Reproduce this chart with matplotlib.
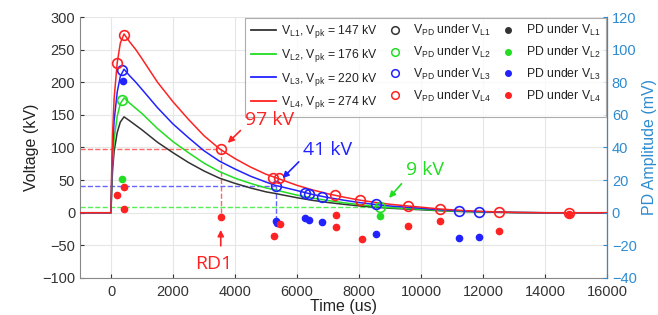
import matplotlib
matplotlib.use("Agg")
import matplotlib.pyplot as plt
from matplotlib.lines import Line2D

plt.rcParams['font.family'] = ['Liberation Sans', 'DejaVu Sans']
plt.rcParams['mathtext.fontset'] = 'custom'
plt.rcParams['mathtext.rm'] = 'Liberation Sans'
plt.rcParams['mathtext.it'] = 'Liberation Sans:italic'

# ---- data ----
t_wave = [-1000, 0, 20, 50, 100, 200, 300, 420, 600, 800, 1000, 1500, 2000, 2500,
          3000, 3500, 4000, 4500, 5000, 5300, 6000, 6500, 7000, 7500, 8000, 8500,
          9000, 9500, 10000, 10600, 11000, 11500, 12000, 12500, 13000, 14000, 16000]
v_L4 = [0, 0, 60, 120, 175, 230, 260, 274, 262, 250, 236, 200, 170, 143,
        118, 98, 83, 70, 59, 54, 42, 35, 29, 24, 19.5, 16,
        13, 10.7, 8.5, 5.8, 4.5, 3, 2, 1.2, 0.5, 0, 0]
v_L3 = [0, 0, 48, 97, 141, 185, 209, 220, 210, 200, 189, 161, 136, 115,
        95, 79, 67, 56, 47, 42, 34, 28, 23.3, 19.3, 15.7, 12.8,
        10.3, 8.6, 6.8, 4.6, 3.6, 2.4, 1.6, 1, 0.4, 0, 0]
v_L2 = [0, 0, 39, 77, 113, 148, 167, 176, 168, 160, 152, 129, 109, 92,
        76, 63, 53, 45, 38, 35, 27, 22.5, 18.7, 15.4, 12.5, 9.8,
        7.8, 6.6, 5.3, 3.6, 2.8, 1.9, 1.3, 0.8, 0.35, 0, 0]
v_L1 = [0, 0, 32, 65, 94, 123, 139, 147, 141, 134, 127, 108, 92, 77,
        64, 53, 45, 38, 32, 29.5, 23, 19, 15.7, 13, 10.5, 8.5,
        6.9, 5.7, 4.6, 3.1, 2.4, 1.6, 1.1, 0.65, 0.3, 0, 0]

# V_PD circles (kV)
vpd_L1_t, vpd_L1_v = [], []
vpd_L2_t = [344, 8693]
vpd_L2_v = [173, 8.3]
vpd_L3_t = [365, 5334, 6246, 6375, 6793, 8532, 11236, 11858]
vpd_L3_v = [219, 41, 29.8, 29.2, 24, 13.4, 3.2, 1.2]
vpd_L4_t = [193, 418, 3563, 5237, 5420, 7222, 8040, 9573, 10603, 12503, 14788]
vpd_L4_v = [229, 273, 97, 54, 52.5, 27.2, 19.5, 10.8, 5.7, 1.2, -1]

# PD amplitudes (mV)
pd_L1_t, pd_L1_a = [], []
pd_L2_t = [354, 8693]
pd_L2_a = [20.7, -2]
pd_L3_t = [376, 5312, 5355, 6246, 6385, 6816, 8554, 11236, 11869]
pd_L3_a = [81, -4.9, -6.5, -3, -4.4, -5.9, -13, -15.5, -14.9]
pd_L4_t = [193, 430, 418, 3540, 5258, 5452, 7244, 7244, 8081, 9584, 10615, 12503, 14790]
pd_L4_a = [10.9, 15.6, 2.3, -2.4, -14, -6.9, -1.6, -9, -15.9, -8.1, -5.1, -11.2, -0.6]

line_labels = [r'V$_{\mathrm{L1}}$, V$_{\mathrm{pk}}$ = 147 kV',
               r'V$_{\mathrm{L2}}$, V$_{\mathrm{pk}}$ = 176 kV',
               r'V$_{\mathrm{L3}}$, V$_{\mathrm{pk}}$ = 220 kV',
               r'V$_{\mathrm{L4}}$, V$_{\mathrm{pk}}$ = 274 kV']
circ_labels = [r'V$_{\mathrm{PD}}$ under V$_{\mathrm{L%d}}$' % i for i in range(1, 5)]
dot_labels = [r'PD under V$_{\mathrm{L%d}}$' % i for i in range(1, 5)]

colors = ['#333333', '#22dd22', '#2222ff', '#ff2222']
right_color = '#2e8bd0'

fig = plt.figure(figsize=(6.58, 3.15), dpi=100)
ax = fig.add_axes([0.1216, 0.1175, 0.8009, 0.8285])
ax2 = ax.twinx()

waves = [v_L1, v_L2, v_L3, v_L4]
vpds = [(vpd_L1_t, vpd_L1_v), (vpd_L2_t, vpd_L2_v), (vpd_L3_t, vpd_L3_v), (vpd_L4_t, vpd_L4_v)]
pds = [(pd_L1_t, pd_L1_a), (pd_L2_t, pd_L2_a), (pd_L3_t, pd_L3_a), (pd_L4_t, pd_L4_a)]

# dashed guide lines
ax.plot([-1000, 3563], [97, 97], ls='--', color='#ff6666', lw=1.0, zorder=2)
ax.plot([3563, 3563], [97, -5], ls='--', color='#ff6666', lw=1.0, zorder=2)
ax.plot([-1000, 5334], [41, 41], ls='--', color='#6666ff', lw=1.0, zorder=2)
ax.plot([5334, 5334], [41, -10], ls='--', color='#6666ff', lw=1.0, zorder=2)
ax.plot([-1000, 8693], [9, 9], ls='--', color='#55ee55', lw=1.0, zorder=2)

handles_l, handles_c, handles_d = [], [], []
for i in range(4):
    ax.plot(t_wave, waves[i], color=colors[i], lw=1.1, zorder=3)
    handles_l.append(Line2D([], [], color=colors[i], lw=1.3))
    ax.plot(vpds[i][0], vpds[i][1], 'o', mfc='none', mec=colors[i], ms=7, mew=1.2, zorder=4)
    handles_c.append(Line2D([], [], ls='none', marker='o', mfc='none', mec=colors[i], ms=5.5, mew=1.1))
    ax2.plot(pds[i][0], pds[i][1], 'o', color=colors[i], ms=4.5, zorder=4)
    handles_d.append(Line2D([], [], ls='none', marker='o', color=colors[i], ms=4))

ax.set_xlim(-1000, 16000)
ax.set_ylim(-100, 300)
ax2.set_ylim(-40, 120)
ax.set_xticks(range(0, 16001, 2000))
ax.set_yticks(range(-100, 301, 50))
ax2.set_yticks(range(-40, 121, 20))
ax.grid(True, color='#e6e6e6', lw=0.8)
ax.set_axisbelow(True)

ax.spines['top'].set_visible(False)
ax2.spines['top'].set_visible(False)
ax.spines['left'].set_color('#888888')
ax.spines['bottom'].set_color('#888888')
ax2.spines['right'].set_color(right_color)
ax2.spines['left'].set_visible(False)
ax2.spines['bottom'].set_visible(False)

ax.tick_params(labelsize=10.5, colors='#333333', length=3, direction='in')
ax.tick_params(axis='x', pad=5)
ax2.tick_params(labelsize=10.5, colors=right_color, length=3, direction='in')
ax.set_xlabel('Time (us)', fontsize=11.5, labelpad=0, color='#222222')
ax.set_ylabel('Voltage (kV)', fontsize=11.5, labelpad=2, color='#222222')
ax2.set_ylabel('PD Amplitude (mV)', fontsize=11.5, color=right_color, labelpad=4)

ax2.set_zorder(ax.get_zorder() + 1)
leg = ax2.legend(handles_l + handles_c + handles_d, line_labels + circ_labels + dot_labels,
                 ncol=3, loc='upper right', bbox_to_anchor=(1.0, 1.0), borderaxespad=0.05,
                 fontsize=8.8, frameon=True, fancybox=False, edgecolor='#999999',
                 handlelength=2.1, handletextpad=0.4, columnspacing=0.35, labelspacing=0.55,
                 borderpad=0.45)
leg.get_frame().set_linewidth(0.8)
leg.set_zorder(5)
for txt in leg.get_texts():
    txt.set_color('#222222')

# annotations
afont = ['Open Sans', 'DejaVu Sans']
tr = ax.transData
ax2.annotate('', xy=(3700, 104), xytext=(4240, 129), xycoords=tr, textcoords=tr,
             arrowprops=dict(arrowstyle='-|>', color='#ff2222', lw=1.2, mutation_scale=9), zorder=6)
ax2.text(5120, 142, '97 kV', transform=tr, color='#ff2222', fontsize=14, ha='center', va='center', family=afont, zorder=7)
ax2.annotate('', xy=(5470, 50), xytext=(6120, 81), xycoords=tr, textcoords=tr,
             arrowprops=dict(arrowstyle='-|>', color='#2222ff', lw=1.2, mutation_scale=9), zorder=6)
ax2.text(7000, 96, '41 kV', transform=tr, color='#2222ff', fontsize=14, ha='center', va='center', family=afont, zorder=7)
ax2.annotate('', xy=(8910, 19.5), xytext=(9430, 47.6), xycoords=tr, textcoords=tr,
             arrowprops=dict(arrowstyle='-|>', color='#22dd22', lw=1.2, mutation_scale=9), zorder=6)
ax2.text(10140, 65, '9 kV', transform=tr, color='#22dd22', fontsize=14, ha='center', va='center', family=afont, zorder=7)
ax2.annotate('', xy=(3540, -22), xytext=(3540, -55), xycoords=tr, textcoords=tr,
             arrowprops=dict(arrowstyle='-|>', color='#ff2222', lw=1.2, mutation_scale=9), zorder=6)
ax2.text(3330, -79, 'RD1', transform=tr, color='#ff2222', fontsize=14, ha='center', va='center', family=afont, zorder=7)

fig.savefig('out.png', dpi=100)
